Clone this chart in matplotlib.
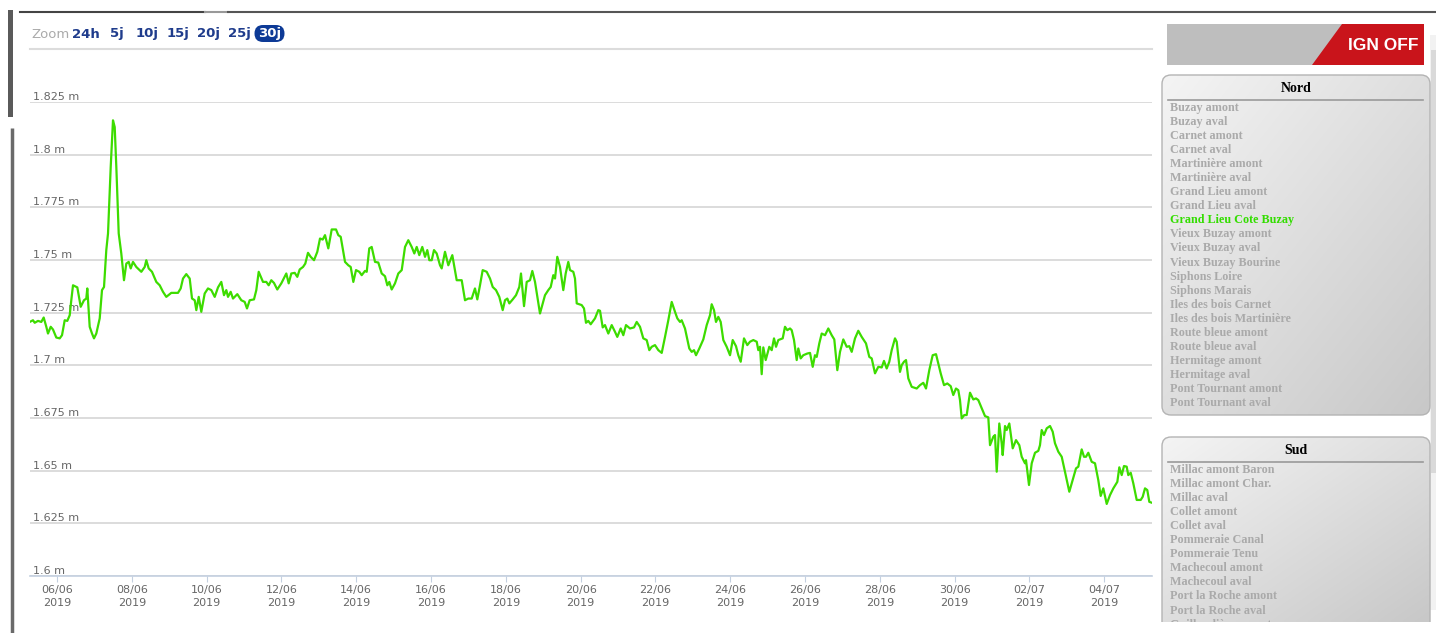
import numpy as np
import pandas as pd
import matplotlib
matplotlib.use('Agg')
from matplotlib import pyplot as plt
from matplotlib.patches import FancyBboxPatch, Rectangle, Polygon
from matplotlib.colors import LinearSegmentedColormap
from matplotlib.transforms import ScaledTranslation, blended_transform_factory

# niveau d'eau (m) - Grand Lieu Cote Buzay, 30 derniers jours
start = pd.Timestamp('2019-06-06')

# jours depuis le 06/06/2019 00:00
days = [
    -0.730, -0.642, -0.596, -0.508, -0.420, -0.356, -0.286, -0.241, -0.168, -0.107,
    -0.019, 0.072, 0.134, 0.206, 0.275, 0.340, 0.382, 0.428, 0.543, 0.634,
    0.722, 0.783, 0.810, 0.874, 0.936, 0.989, 1.051, 1.142, 1.203, 1.257,
    1.318, 1.364, 1.436, 1.497, 1.543, 1.586, 1.650, 1.719, 1.791, 1.853,
    1.917, 1.971, 2.032, 2.120, 2.254, 2.345, 2.388, 2.452, 2.540, 2.655,
    2.746, 2.834, 2.922, 3.056, 3.235, 3.307, 3.369, 3.457, 3.548, 3.610,
    3.682, 3.725, 3.789, 3.858, 3.949, 4.037, 4.126, 4.217, 4.305, 4.393,
    4.465, 4.527, 4.572, 4.644, 4.706, 4.821, 4.928, 5.019, 5.080, 5.152,
    5.267, 5.329, 5.393, 5.508, 5.596, 5.660, 5.730, 5.802, 5.890, 5.997,
    6.131, 6.195, 6.265, 6.356, 6.425, 6.489, 6.578, 6.639, 6.711, 6.783,
    6.872, 6.960,
    7.032, 7.104, 7.166, 7.254, 7.345, 7.460, 7.521, 7.586, 7.701, 7.789,
    7.853, 7.923, 7.995, 8.083, 8.147, 8.235, 8.281, 8.350, 8.414, 8.503,
    8.591, 8.682, 8.770, 8.832, 8.885, 8.949, 9.037, 9.126, 9.217, 9.305,
    9.393, 9.484, 9.554, 9.618, 9.687, 9.767, 9.840, 9.901, 9.955, 10.019,
    10.080, 10.152, 10.241, 10.286, 10.374, 10.463, 10.570, 10.687, 10.821, 10.909,
    10.997, 11.088, 11.176, 11.238, 11.310, 11.382, 11.489, 11.578, 11.650, 11.738,
    11.826, 11.917, 11.979, 12.040, 12.094, 12.185, 12.273, 12.361, 12.406, 12.487,
    12.559, 12.647, 12.709, 12.781, 12.914, 13.048, 13.136, 13.201, 13.270, 13.316,
    13.377, 13.449, 13.537, 13.601, 13.671, 13.717, 13.805, 13.850, 13.896, 14.029,
    14.091, 14.144, 14.206, 14.270, 14.385, 14.473,
    14.519, 14.591, 14.652, 14.741, 14.832, 14.920, 14.981, 15.072, 15.142, 15.214,
    15.321, 15.428, 15.500, 15.588, 15.676, 15.767, 15.837, 15.901, 15.989, 16.078,
    16.169, 16.257, 16.345, 16.436, 16.524, 16.586, 16.658, 16.703, 16.791, 16.906,
    16.971, 17.032, 17.086, 17.174, 17.281, 17.372, 17.460, 17.505, 17.567, 17.620,
    17.682, 17.746, 17.816, 17.906, 17.995, 18.067, 18.155, 18.217, 18.281, 18.369,
    18.457, 18.529, 18.618, 18.709, 18.751, 18.797, 18.842, 18.885, 18.949, 19.045,
    19.110, 19.171, 19.225, 19.286, 19.404, 19.465, 19.527, 19.599, 19.644, 19.706,
    19.778, 19.821, 19.885, 19.954, 20.061, 20.134, 20.206, 20.267, 20.313, 20.382,
    20.447, 20.535, 20.623, 20.714, 20.783, 20.864, 20.936, 21.024, 21.115, 21.184,
    21.249, 21.337, 21.425, 21.516, 21.631, 21.719, 21.783, 21.872, 21.960,
    22.051, 22.112, 22.184, 22.254, 22.318, 22.406, 22.452, 22.540, 22.586, 22.647,
    22.701, 22.762, 22.853, 22.987, 23.075, 23.163, 23.235, 23.323, 23.414, 23.503,
    23.564, 23.628, 23.717, 23.805, 23.896, 23.965, 24.037, 24.099, 24.144, 24.190,
    24.259, 24.323, 24.412, 24.500, 24.572, 24.634, 24.725, 24.813, 24.901, 24.947,
    25.035, 25.080, 25.126, 25.195, 25.259, 25.286, 25.348, 25.393, 25.463, 25.554,
    25.642, 25.730, 25.794, 25.882, 25.909, 25.989, 26.062, 26.150, 26.238, 26.283,
    26.329, 26.390, 26.463, 26.551, 26.623, 26.684, 26.773, 26.864, 26.952, 27.067,
    27.131, 27.246, 27.308, 27.398, 27.460, 27.513, 27.575, 27.666, 27.754, 27.842,
    27.906, 27.976, 28.067, 28.155, 28.244, 28.351, 28.404, 28.468, 28.529, 28.601,
    28.644, 28.709, 28.778, 28.869, 28.976, 29.029, 29.091, 29.152, 29.206, 29.270,
]

levels = [
    1.7206, 1.7214, 1.7202, 1.7211, 1.7206, 1.7227, 1.7183, 1.7151, 1.7183, 1.7170,
    1.7132, 1.7128, 1.7143, 1.7214, 1.7211, 1.7238, 1.7309, 1.7380, 1.7370, 1.7278,
    1.7309, 1.7317, 1.7365, 1.7183, 1.7151, 1.7128, 1.7151, 1.7223, 1.7357, 1.7372,
    1.7547, 1.7626, 1.7942, 1.8163, 1.8131, 1.7942, 1.7626, 1.7531, 1.7404, 1.7483,
    1.7491, 1.7460, 1.7491, 1.7467, 1.7444, 1.7467, 1.7499, 1.7460, 1.7444, 1.7396,
    1.7380, 1.7349, 1.7325, 1.7344, 1.7344, 1.7365, 1.7412, 1.7433, 1.7412, 1.7317,
    1.7309, 1.7262, 1.7325, 1.7254, 1.7341, 1.7365, 1.7357, 1.7325, 1.7370, 1.7396,
    1.7333, 1.7357, 1.7325, 1.7349, 1.7317, 1.7338, 1.7309, 1.7301, 1.7270, 1.7309,
    1.7313, 1.7357, 1.7444, 1.7396, 1.7396, 1.7380, 1.7404, 1.7391, 1.7360, 1.7389,
    1.7436, 1.7389, 1.7436, 1.7439, 1.7420, 1.7455, 1.7467, 1.7483, 1.7534, 1.7515,
    1.7499, 1.7539,
    1.7602, 1.7597, 1.7618, 1.7555, 1.7645, 1.7645, 1.7618, 1.7610, 1.7491, 1.7475,
    1.7467, 1.7396, 1.7452, 1.7444, 1.7428, 1.7448, 1.7444, 1.7555, 1.7562, 1.7491,
    1.7488, 1.7436, 1.7423, 1.7380, 1.7396, 1.7360, 1.7389, 1.7436, 1.7452, 1.7562,
    1.7594, 1.7562, 1.7531, 1.7562, 1.7523, 1.7562, 1.7515, 1.7547, 1.7499, 1.7499,
    1.7547, 1.7531, 1.7475, 1.7460, 1.7539, 1.7475, 1.7523, 1.7404, 1.7404, 1.7309,
    1.7317, 1.7317, 1.7365, 1.7313, 1.7380, 1.7452, 1.7444, 1.7412, 1.7372, 1.7357,
    1.7325, 1.7262, 1.7309, 1.7317, 1.7294, 1.7313, 1.7333, 1.7372, 1.7436, 1.7281,
    1.7396, 1.7404, 1.7448, 1.7396, 1.7246, 1.7333, 1.7357, 1.7372, 1.7428, 1.7412,
    1.7515, 1.7467, 1.7357, 1.7436, 1.7491, 1.7452, 1.7444, 1.7412, 1.7294, 1.7286,
    1.7270, 1.7202, 1.7211, 1.7195, 1.7223, 1.7262,
    1.7259, 1.7180, 1.7191, 1.7151, 1.7191, 1.7159, 1.7135, 1.7175, 1.7143, 1.7191,
    1.7175, 1.7180, 1.7206, 1.7183, 1.7128, 1.7120, 1.7072, 1.7088, 1.7096, 1.7072,
    1.7059, 1.7135, 1.7214, 1.7301, 1.7254, 1.7223, 1.7206, 1.7214, 1.7175, 1.7080,
    1.7064, 1.7072, 1.7048, 1.7080, 1.7123, 1.7191, 1.7238, 1.7290, 1.7262, 1.7206,
    1.7230, 1.7206, 1.7120, 1.7088, 1.7048, 1.7120, 1.7091, 1.7048, 1.7017, 1.7128,
    1.7096, 1.7112, 1.7120, 1.7112, 1.7072, 1.7088, 1.6958, 1.7085, 1.7025, 1.7088,
    1.7072, 1.7128, 1.7088, 1.7120, 1.7128, 1.7183, 1.7167, 1.7175, 1.7167, 1.7120,
    1.7025, 1.7080, 1.7033, 1.7048, 1.7056, 1.7059, 1.6993, 1.7048, 1.7040, 1.7104,
    1.7151, 1.7143, 1.7175, 1.7143, 1.7123, 1.6977, 1.7064, 1.7123, 1.7088, 1.7091,
    1.7064, 1.7128, 1.7164, 1.7135, 1.7104, 1.7040, 1.7033, 1.6962, 1.6993,
    1.6990, 1.7021, 1.6985, 1.7017, 1.7072, 1.7128, 1.7112, 1.6969, 1.7001, 1.7017,
    1.7025, 1.6938, 1.6898, 1.6890, 1.6906, 1.6917, 1.6890, 1.6977, 1.7048, 1.7053,
    1.7009, 1.6962, 1.6906, 1.6914, 1.6901, 1.6859, 1.6890, 1.6882, 1.6835, 1.6748,
    1.6764, 1.6764, 1.6870, 1.6838, 1.6843, 1.6835, 1.6796, 1.6759, 1.6753, 1.6621,
    1.6661, 1.6669, 1.6495, 1.6724, 1.6630, 1.6574, 1.6712, 1.6693, 1.6724, 1.6606,
    1.6645, 1.6621, 1.6566, 1.6535, 1.6550, 1.6432, 1.6535, 1.6585, 1.6594, 1.6621,
    1.6693, 1.6669, 1.6701, 1.6712, 1.6685, 1.6630, 1.6590, 1.6566, 1.6495, 1.6400,
    1.6440, 1.6511, 1.6519, 1.6601, 1.6566, 1.6566, 1.6585, 1.6542, 1.6535, 1.6455,
    1.6380, 1.6416, 1.6342, 1.6384, 1.6416, 1.6447, 1.6516, 1.6479, 1.6522, 1.6519,
    1.6479, 1.6490, 1.6440, 1.6361, 1.6361, 1.6376, 1.6416, 1.6408, 1.6352, 1.6348,
]

y_ticks = [1.6, 1.625, 1.65, 1.675, 1.7, 1.725, 1.75, 1.775, 1.8, 1.825]
x_ticks = pd.date_range('2019-06-06', '2019-07-04', freq='2D')

zoom_buttons = ['24h', '5j', '10j', '15j', '20j', '25j', '30j']
nord = ['Buzay amont', 'Buzay aval', 'Carnet amont', 'Carnet aval',
        'Martinière amont', 'Martinière aval', 'Grand Lieu amont', 'Grand Lieu aval',
        'Grand Lieu Cote Buzay', 'Vieux Buzay amont', 'Vieux Buzay aval',
        'Vieux Buzay Bourine', 'Siphons Loire', 'Siphons Marais', 'Iles des bois Carnet',
        'Iles des bois Martinière', 'Route bleue amont', 'Route bleue aval',
        'Hermitage amont', 'Hermitage aval', 'Pont Tournant amont', 'Pont Tournant aval']
sud = ['Millac amont Baron', 'Millac amont Char.', 'Millac aval', 'Collet amont',
       'Collet aval', 'Pommeraie Canal', 'Pommeraie Tenu', 'Machecoul amont',
       'Machecoul aval', 'Port la Roche amont', 'Port la Roche aval', 'Guillaudière amont']
selected = 'Grand Lieu Cote Buzay'

assert len(days) == len(levels)

W, H = 1436, 633
GREEN = '#3ddc00'

fig = plt.figure(figsize=(W / 100, H / 100), dpi=100)
fig.patch.set_facecolor('white')

# calque de fond en pixels pour les elements de la page
bg = fig.add_axes([0, 0, 1, 1])
bg.axis('off')

# bordures de la fenetre
bg.add_patch(Rectangle((8, 10), 5, 107, fc='#5a5a5a', ec='none'))
bg.plot([12, 12], [128, 633], color='#6a6a6a', lw=2.5, solid_capstyle='butt')
bg.plot([20, 205], [12, 12], color='#444444', lw=1.5)
bg.plot([205, 228], [12, 12], color='#999999', lw=1.5)
bg.plot([228, 1436], [12, 12], color='#555555', lw=1.5)
# barre de defilement
bg.add_patch(Rectangle((1430, 35), 6, 575, fc='#f2f2f2', ec='none'))
bg.add_patch(Rectangle((1431, 50), 5, 423, fc='#d9d9d9', ec='none'))

# barre de zoom
bg.text(31, 34, 'Zoom', color='#aaaaaa', fontsize=9.5, va='center', ha='left')
btn_x = [86, 117, 147.5, 178, 208.5, 239, 269.5]
for lab, bx in zip(zoom_buttons, btn_x):
    if lab == '30j':
        bg.add_patch(FancyBboxPatch((bx - 15, 25), 30, 17,
                                    boxstyle='round,pad=0,rounding_size=8.5',
                                    fc='#0d3a96', ec='none'))
        bg.text(bx, 34, lab, color='white', fontsize=9.5, weight='bold',
                va='center', ha='center')
    else:
        bg.text(bx, 34, lab, color='#1f3c8c', fontsize=9.5, weight='bold',
                va='center', ha='center')
bg.plot([30, 1152], [48.5, 48.5], color='#dcdcdc', lw=1.5)

# bouton IGN OFF
bg.add_patch(Rectangle((1167, 24), 257, 41, fc='#bebebe', ec='none'))
bg.add_patch(Polygon([(1342, 24), (1424, 24), (1424, 65), (1312, 65)],
                     closed=True, fc='#c9141b', ec='none'))
bg.text(1383, 45, 'IGN OFF', color='white', fontsize=12.5, weight='bold',
        family='Liberation Sans', va='center', ha='center')

# panneaux Nord / Sud
cmap = LinearSegmentedColormap.from_list('panel', ['#f4f4f4', '#c8c8c8'])
grad = np.add.outer(np.linspace(0, 1, 60), np.linspace(0, 1, 60)) / 2


def panel(y0, y1, title, items, cut=None):
    box = FancyBboxPatch((1162, y0), 268, y1 - y0,
                         boxstyle='round,pad=0,rounding_size=9',
                         fc='none', ec='#b4b4b4', lw=1.0, zorder=3)
    bg.add_patch(box)
    bottom = y1 if cut is None else cut
    im = bg.imshow(grad, cmap=cmap, extent=(1162, 1430, bottom, y0),
                   aspect='auto', interpolation='bilinear', zorder=1)
    im.set_clip_path(box)
    arts = [box]
    arts.append(bg.text(1296, y0 + 14, title, family='Liberation Serif',
                        weight='bold', fontsize=10, color='black',
                        va='center', ha='center', zorder=4))
    arts.extend(bg.plot([1168, 1423], [y0 + 25, y0 + 25], color='#9a9a9a',
                        lw=1.2, zorder=4))
    for i, name in enumerate(items):
        col = '#33dd00' if name == selected else '#aaaaaa'
        arts.append(bg.text(1170, y0 + 33 + i * 14.05, name,
                            family='Liberation Serif', weight='bold',
                            fontsize=8.7, color=col, va='center', ha='left',
                            zorder=4))
    if cut is not None:
        clip = Rectangle((1150, y0 - 5), 290, cut - y0 + 5, transform=bg.transData)
        for a in arts:
            a.set_clip_on(True)
            a.set_clip_path(clip)


panel(75, 415, 'Nord', nord)
panel(437, 720, 'Sud', sud, cut=622)

bg.set_xlim(0, W)
bg.set_ylim(H, 0)

# graphique
ax = fig.add_axes([30 / W, 1 - 576 / H, 1122 / W, 474 / H])
ax.patch.set_alpha(0)
times = start + pd.to_timedelta(days, unit='D')
ax.plot(times, levels, color=GREEN, lw=1.6, zorder=3)

ax.set_xlim(start - pd.Timedelta(days=0.722), start + pd.Timedelta(days=29.278))
ax.set_ylim(1.6, 1.825)

ax.set_yticks(y_ticks)
ax.yaxis.grid(True, color='#d6d6d6', lw=1.2)
ax.tick_params(axis='y', length=0, labelleft=False)
for s in ['top', 'left', 'right']:
    ax.spines[s].set_visible(False)
ax.spines['bottom'].set_color('#c4d0e0')
ax.spines['bottom'].set_linewidth(1.2)

ax.set_xticks(x_ticks)
ax.set_xticklabels([d.strftime('%d/%m\n%Y') for d in x_ticks], linespacing=1.35)
ax.tick_params(axis='x', length=4, color='#c4d0e0', labelsize=8,
               labelcolor='#666666', pad=2.5)

trans = blended_transform_factory(ax.transAxes, ax.transData) + \
    ScaledTranslation(0, 2 / 100, fig.dpi_scale_trans)
for v in y_ticks:
    ax.text(0.003, v, f'{v:g} m', transform=trans, fontsize=8, color='#666666',
            va='baseline', ha='left', zorder=1)

fig.savefig('out.png', dpi=100, facecolor='white')
